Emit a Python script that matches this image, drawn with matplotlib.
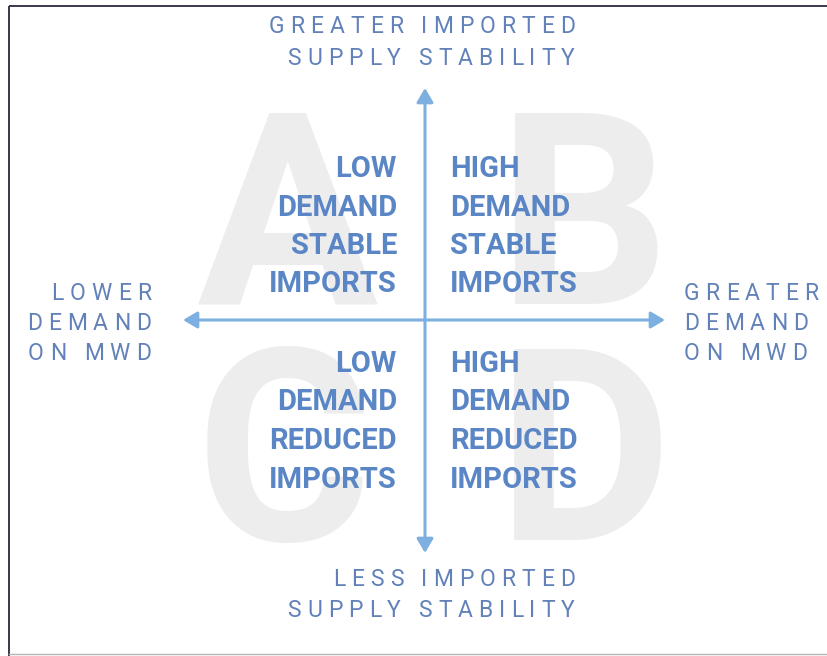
import matplotlib
matplotlib.use('Agg')
import matplotlib.pyplot as plt
from matplotlib.patches import FancyArrowPatch, Rectangle
from matplotlib.font_manager import FontProperties, findfont, get_font

W, H, DPI = 828, 656, 100

# quadrant content
big_letters = ['A', 'B', 'C', 'D']
quad_lines = [
    ['LOW', 'DEMAND', 'STABLE', 'IMPORTS'],
    ['HIGH', 'DEMAND', 'STABLE', 'IMPORTS'],
    ['LOW', 'DEMAND', 'REDUCED', 'IMPORTS'],
    ['HIGH', 'DEMAND', 'REDUCED', 'IMPORTS'],
]

# axis end labels
top_label = ['GREATER IMPORTED', 'SUPPLY STABILITY']
bottom_label = ['LESS IMPORTED', 'SUPPLY STABILITY']
left_label = ['LOWER', 'DEMAND', 'ON MWD']
right_label = ['GREATER', 'DEMAND', 'ON MWD']

BLUE_TXT = '#5a86c6'
LABEL_TXT = '#6181b8'
ARROW = '#7db0e0'
GHOST = '#ededed'

fig = plt.figure(figsize=(W / DPI, H / DPI), dpi=DPI)
ax = fig.add_axes([0, 0, 1, 1])
ax.set_xlim(0, W)
ax.set_ylim(H, 0)
ax.axis('off')

# centre of the diagram (pixel layout)
cx, cy = 425, 320

# big ghost letters behind each quadrant
letter_pos = [(288, 304), (584, 304), (284, 540), (585, 540)]
for letter, (lx, ly) in zip(big_letters, letter_pos):
    ax.text(lx, ly, letter, family='Roboto', weight='bold', fontsize=194,
            color=GHOST, ha='center', va='baseline', zorder=1)

# arrows
arrow_style = '<|-|>,head_length=0.85,head_width=0.5'
ax.add_patch(FancyArrowPatch((183, cy), (665, cy), arrowstyle=arrow_style,
                             mutation_scale=10, lw=2.2, color=ARROW,
                             shrinkA=0, shrinkB=0, zorder=3))
ax.add_patch(FancyArrowPatch((cx, 88), (cx, 553), arrowstyle=arrow_style,
                             mutation_scale=10, lw=2.2, color=ARROW,
                             shrinkA=0, shrinkB=0, zorder=3))

# quadrant text
line_gap = 38.5
first_base = [177, 177, 372, 372]
for i, lines in enumerate(quad_lines):
    left = i % 2 == 0
    x = 397 if left else 450
    for j, s in enumerate(lines):
        ax.text(x, first_base[i] + j * line_gap, s, family='Roboto',
                weight='bold', fontsize=21, color=BLUE_TXT,
                ha='right' if left else 'left', va='baseline', zorder=4)


def tracked(x, y, s, ha='left', size=16.5, track=6.0, clip=None):
    # letter-spaced text, one glyph at a time
    prop = FontProperties(family='Roboto', size=size)
    font = get_font(findfont(prop))
    font.set_size(size, DPI)
    adv = [font.load_char(ord(c)).linearHoriAdvance / 65536 for c in s]
    total = sum(adv) + track * (len(s) - 1)
    x0 = x - total if ha == 'right' else x
    for c, a in zip(s, adv):
        t = ax.text(x0, y, c, fontproperties=prop, color=LABEL_TXT,
                    ha='left', va='baseline', zorder=4)
        if clip is not None:
            t.set_clip_path(clip)
        x0 += a + track


for j, s in enumerate(top_label):
    tracked(575, 33 + j * 32, s, ha='right')
for j, s in enumerate(bottom_label):
    tracked(575, 586 + j * 31, s, ha='right')
for j, s in enumerate(left_label):
    tracked(151, 300 + j * 30, s, ha='right')

clip_rect = Rectangle((0, 0), 815, H, transform=ax.transData)
for j, s in enumerate(right_label):
    tracked(684, 300 + j * 30, s, ha='left', clip=clip_rect)

# frame lines from the source image
ax.plot([9, 9], [H, 6], color='#2e2840', lw=1.3, solid_capstyle='butt')
ax.plot([9, W], [6, 6], color='#2e2840', lw=1.3, solid_capstyle='butt')
ax.plot([9, W], [654, 654], color='#b4b4b8', lw=1.0)

fig.savefig('out.png', dpi=DPI)
